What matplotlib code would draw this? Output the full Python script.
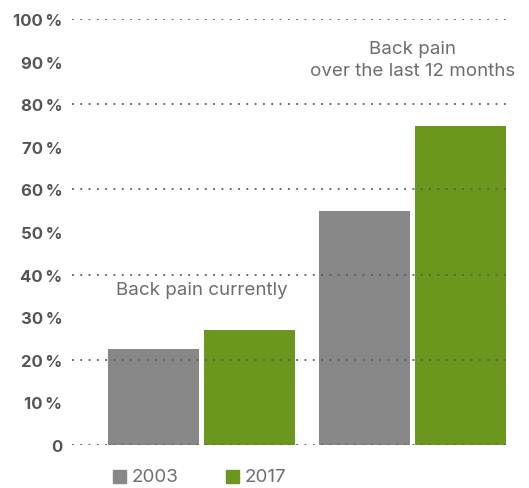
import numpy as np
import matplotlib.pyplot as plt

groups = ['Back pain currently', 'Back pain\nover the last 12 months']
years = ['2003', '2017']
vals_2003 = [22.5, 55]
vals_2017 = [27, 75]
colors = ['#878787', '#6b971e']
yticks = list(range(0, 101, 10))
grid_vals = [0, 20, 40, 60, 80, 100]

plt.rcParams['font.family'] = ['Inter', 'DejaVu Sans']

fig = plt.figure(figsize=(5.29, 4.89), dpi=100)
ax = fig.add_axes([0.136, 0.088, 0.828, 0.871])

x = np.arange(len(groups))
w = 0.43
ax.bar(x - 0.227, vals_2003, w, color=colors[0], zorder=1)
ax.bar(x + 0.227, vals_2017, w, color=colors[1], zorder=1)

for g in grid_vals:
    ax.axhline(g, color='#5a5a5a', lw=1.3, ls=(0, (1, 3.6)), zorder=3)

ax.set_xlim(-0.612, 1.459)
ax.set_ylim(0, 100)
ax.set_xticks([])
ax.set_yticks(yticks)
ax.set_yticklabels(['0'] + ['%d\u2009%%' % t for t in yticks[1:]])
ax.tick_params(axis='y', length=0, pad=7, labelsize=12, labelcolor='#555555')
for lab in ax.get_yticklabels():
    lab.set_fontweight('bold')
for s in ax.spines.values():
    s.set_visible(False)

ax.text(x[0], 36.5, groups[0], ha='center', va='center', fontsize=13.5,
        color='#6e6e6e')
ax.text(x[1], 90.5, groups[1], ha='center', va='center', fontsize=13.5,
        color='#6e6e6e', linespacing=1.4)

# legend
for i, (yr, c) in enumerate(zip(years, colors)):
    lx = 113 + i * 113
    fig.patches.append(plt.Rectangle((lx / 529, 1 - 484 / 489), 13 / 529, 13 / 489,
                                     transform=fig.transFigure, color=c))
    fig.text((lx + 19) / 529, 1 - 478 / 489, yr, ha='left', va='center',
             fontsize=13.5, color='#6e6e6e')

fig.savefig('out.png', dpi=100)
